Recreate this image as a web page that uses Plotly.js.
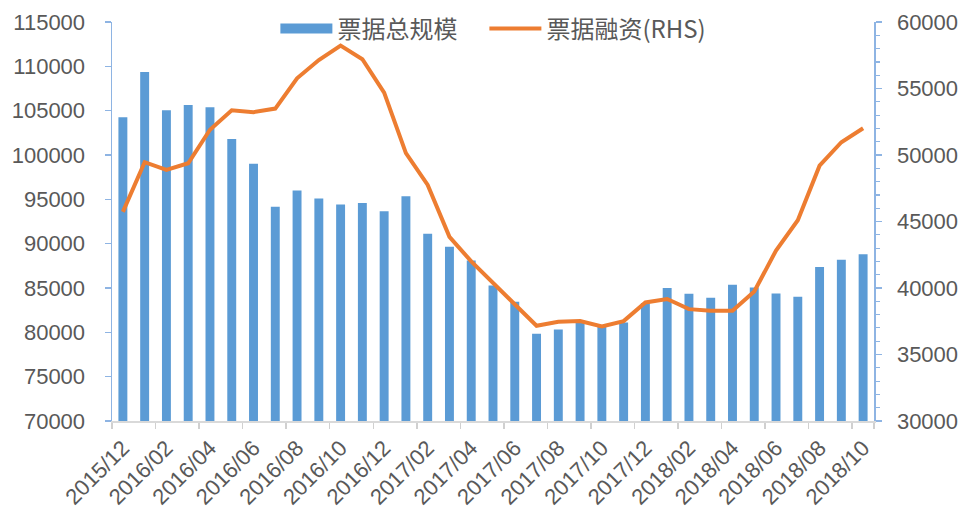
<!DOCTYPE html>
<html>
<head>
<meta charset="utf-8">
<script src="https://cdn.plot.ly/plotly-3.0.1.min.js"></script>
<style>html,body{margin:0;padding:0;background:#fff;}#chart{width:959px;height:509px;}</style>
</head>
<body>
<div id="chart"></div>
<script>
const months = ['2015/12','2016/01','2016/02','2016/03','2016/04','2016/05','2016/06','2016/07','2016/08','2016/09','2016/10','2016/11','2016/12',
  '2017/01','2017/02','2017/03','2017/04','2017/05','2017/06','2017/07','2017/08','2017/09','2017/10','2017/11','2017/12',
  '2018/01','2018/02','2018/03','2018/04','2018/05','2018/06','2018/07','2018/08','2018/09','2018/10'];
const billTotal = [104260,109370,105050,105650,105390,101815,99000,94150,95990,95090,94410,94600,93670,
  95360,91110,89640,88100,85280,83450,79840,80320,81100,80700,81110,83300,
  84990,84350,83900,85360,85060,84380,84010,87360,88180,88820];
const billFinancing = [45725,49460,48880,49380,51900,53360,53220,53490,55770,57140,58220,57200,54690,
  50140,47750,43850,42000,40400,38700,37160,37460,37510,37110,37510,38910,
  39170,38410,38290,38290,39740,42820,45100,49200,50960,52010];
const barName = '票据总规模';
const lineName = '票据融资(RHS)';

const xIdx = months.map((m, i) => i);
const labelIdx = xIdx.filter(i => i % 2 === 0);
const labelText = labelIdx.map(i => months[i]);
const boundaries = labelIdx.map(i => i - 0.5).concat([months.length - 0.5]);

const BLUE = '#5B9BD5', ORANGE = '#ED7D31', TXT = '#595959';
const FONT = 'Liberation Sans, Arial, Noto Sans CJK SC, sans-serif';

const traces = [
  {type:'bar', x:xIdx, y:billTotal, name:barName, marker:{color:BLUE}, width:0.41, showlegend:false, hoverinfo:'y'},
  {type:'scatter', mode:'lines', x:[null], y:[null], name:barName, line:{color:BLUE, width:11}, showlegend:true, legendwidth:142, hoverinfo:'skip'},
  {type:'scatter', mode:'lines', x:xIdx, y:billFinancing, name:lineName, yaxis:'y2', line:{color:ORANGE, width:4}}
];

const layout = {
  width:959, height:509,
  margin:{l:112, r:85, t:22, b:88, autoexpand:false},
  paper_bgcolor:'#fff', plot_bgcolor:'#fff',
  font:{family:FONT, color:TXT, size:22},
  showlegend:true,
  legend:{orientation:'h', x:0.5005, xanchor:'center', y:0.9825, yanchor:'middle', bgcolor:'rgba(0,0,0,0)',
    font:{family:'Noto Sans CJK SC, sans-serif', size:24, color:TXT}, itemwidth:52, traceorder:'normal'},
  xaxis:{type:'linear', range:[-0.5, months.length - 0.5], tickmode:'array', tickvals:labelIdx, ticktext:labelText,
    tickangle:-45, ticks:'', showgrid:false, zeroline:false, showline:true, linecolor:'#D9D9D9', linewidth:1.5,
    ticklabelstandoff:4, tickfont:{size:22, color:TXT},
    minor:{tickmode:'array', tickvals:boundaries, ticks:'outside', ticklen:6, tickcolor:'#D0D0D0', tickwidth:1.5, showgrid:false}},
  yaxis:{range:[70000,115000], dtick:5000, tick0:70000, ticks:'outside', ticklen:6, tickcolor:'#8EB4E3', tickwidth:1.5,
    showline:true, linecolor:'#8EB4E3', linewidth:1.5, showgrid:false, zeroline:false, ticklabelstandoff:15,
    tickfont:{size:22, color:TXT}, tickformat:'d'},
  yaxis2:{overlaying:'y', side:'right', range:[30000,60000], dtick:5000, tick0:30000, ticks:'outside', ticklen:6,
    tickcolor:'#8EB4E3', tickwidth:1.5, showline:true, linecolor:'#8EB4E3', linewidth:1.5, showgrid:false, zeroline:false,
    ticklabelstandoff:11, tickfont:{size:22, color:TXT}, tickformat:'d',
    minor:{dtick:1000, ticks:'outside', ticklen:4, tickcolor:'#8EB4E3', tickwidth:1.2, showgrid:false}},
  bargap:0.59
};

Plotly.newPlot('chart', traces, layout, {displayModeBar:false, staticPlot:true});
</script>
</body>
</html>
